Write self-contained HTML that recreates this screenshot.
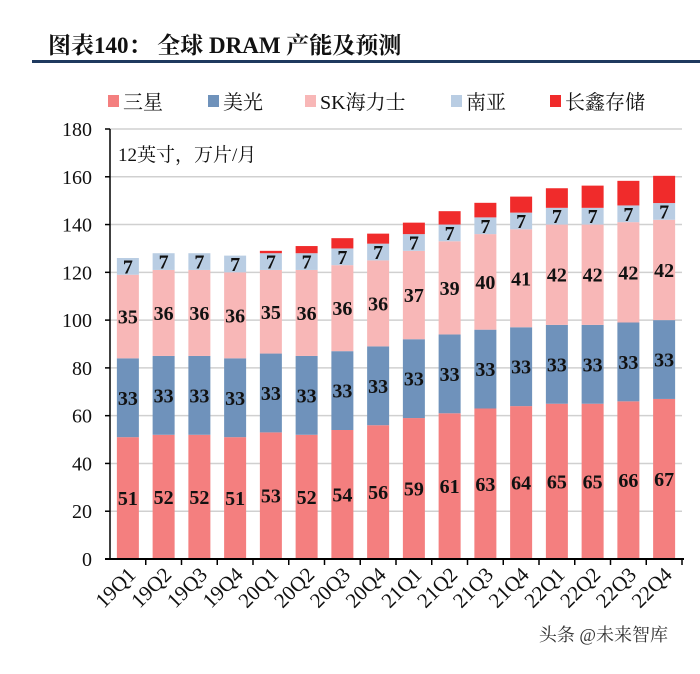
<!DOCTYPE html>
<html><head><meta charset="utf-8"><style>
body{margin:0;background:#fff;}
svg text{font-family:"Liberation Serif","Noto Serif CJK SC",serif;}
</style></head><body>
<svg id="chart" width="700" height="669" viewBox="0 0 700 669" xmlns="http://www.w3.org/2000/svg">
<text x="48" y="53" font-size="23" font-weight="bold" fill="#111">图表140：  全球 DRAM 产能及预测</text>
<rect x="32" y="60" width="668" height="3" fill="#1f3a5f"/>
<g id="legend"></g>
<text x="118" y="161" font-size="19" fill="#111">12英寸，万片/月</text>
<g id="grid"></g><g id="bars"></g><g id="axes"></g>
<text x="668" y="641" font-size="18" text-anchor="end" fill="#333" font-family="Liberation Sans,Noto Sans CJK SC,sans-serif">头条 @未来智库</text>
</svg>
<script>
const categories=["19Q1","19Q2","19Q3","19Q4","20Q1","20Q2","20Q3","20Q4","21Q1","21Q2","21Q3","21Q4","22Q1","22Q2","22Q3","22Q4"];
const samsung=[51,52,52,51,53,52,54,56,59,61,63,64,65,65,66,67];
const micron=[33,33,33,33,33,33,33,33,33,33,33,33,33,33,33,33];
const skhynix=[35,36,36,36,35,36,36,36,37,39,40,41,42,42,42,42];
const nanya=[7,7,7,7,7,7,7,7,7,7,7,7,7,7,7,7];
const cxmt=[0,0,0,0,1,3,4.3,4.2,4.8,5.6,6.1,6.7,8.2,9.3,10.3,11.4];
const yTicks=[0,20,40,60,80,100,120,140,160,180];
const seriesNames=["三星","美光","SK海力士","南亚","长鑫存储"];
const colors=["#f47f7f","#6f92bb","#f8b7b7","#b9cde3","#f02b2b"];
const NS="http://www.w3.org/2000/svg";
const x0=110,x1=682,y0=559,yTop=129;
const band=(x1-x0)/categories.length,bw=22;
const yS=v=>y0-(v/180)*(y0-yTop);
const xS=i=>x0+band*i+band/2;
function mk(tag,attrs,parent){const e=document.createElementNS(NS,tag);for(const k in attrs)e.setAttribute(k,attrs[k]);parent.appendChild(e);return e;}
const grid=document.getElementById('grid'),bars=document.getElementById('bars'),axes=document.getElementById('axes'),legend=document.getElementById('legend');
yTicks.forEach(t=>{
  if(t>0){const g=mk('line',{x1:x0,x2:x1,y1:yS(t),y2:yS(t),stroke:'#d0d0d0','stroke-width':1.5},grid);
  
  }
  const l=mk('text',{x:92,y:yS(t)+7,'font-size':20,'text-anchor':'end',fill:'#111'},axes);l.textContent=t;
  
  
  const tk=mk('line',{x1:x0-5,x2:x0,y1:yS(t),y2:yS(t),stroke:'#000','stroke-width':1.5},axes);
  
  
});
const ya=mk('line',{x1:x0,x2:x0,y1:yTop,y2:y0,stroke:'#000','stroke-width':1.5},axes);


const xa=mk('line',{x1:x0-5,x2:x1+2,y1:y0,y2:y0,stroke:'#000','stroke-width':2},axes);


const series=[samsung,micron,skhynix,nanya,cxmt];
categories.forEach((c,i)=>{
  let acc=0;const cx=xS(i);
  series.forEach((s,k)=>{
    const v=s[i];if(v<=0){return;}
    const r=mk('rect',{x:cx-bw/2,y:yS(acc+v),width:bw,height:yS(acc)-yS(acc+v),fill:colors[k]},bars);
    
    
    if(k<4){const t=mk('text',{x:cx,y:(yS(acc)+yS(acc+v))/2+7,'font-size':20,'font-weight':'bold','text-anchor':'middle',fill:'#111'},bars);
      t.textContent=v;
      
      }
    acc+=v;
  });
  const tk=mk('line',{x1:x0+band*(i+1),x2:x0+band*(i+1),y1:y0,y2:y0+6,stroke:'#000','stroke-width':1.5},axes);
  
  
  const lb=mk('text',{x:cx+9,y:y0+17,'font-size':21,'text-anchor':'end',fill:'#111',transform:`rotate(-45 ${cx+9} ${y0+17})`},axes);
  lb.textContent=c;
  
  
});
const lx=[108,208,305,451,550];
seriesNames.forEach((n,k)=>{
  const r=mk('rect',{x:lx[k],y:95,width:11,height:12,fill:colors[k]},legend);
  
  
  const t=mk('text',{x:lx[k]+15,y:109,'font-size':20,fill:'#111'},legend);t.textContent=n;
  
  
});
</script>
</body></html>
